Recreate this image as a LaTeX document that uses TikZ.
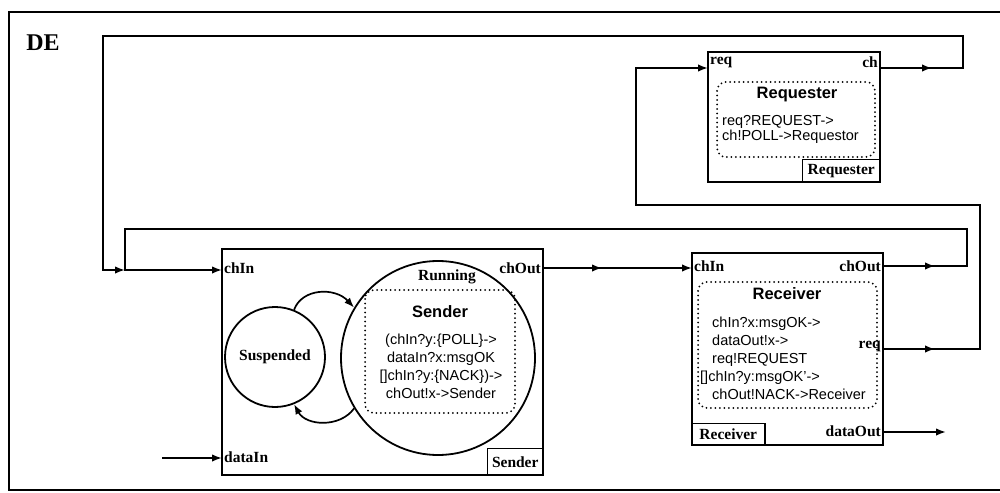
\documentclass[tikz,border=0pt]{standalone}
\usepackage{fontspec}
\setmainfont{Liberation Serif}
\setsansfont{Liberation Sans}
\usetikzlibrary{arrows.meta,decorations.markings}
\begin{document}
\begin{tikzpicture}[x=1pt,y=-1pt,
  >={Latex[length=10pt,width=7.5pt]},
  frame/.style={line width=1.8pt},
  box/.style={draw,line width=2pt,inner sep=0pt},
  lblbox/.style={draw,line width=1.5pt,inner xsep=3pt,inner ysep=0pt,font=\fontsize{15.5}{17}\selectfont\bfseries},
  port/.style={inner sep=2pt,font=\fontsize{15.5}{17}\selectfont\bfseries},
  state/.style={draw,circle,line width=1.8pt,inner sep=0pt},
  dotbox/.style={line width=2pt,dash pattern=on 0pt off 4.5pt,line cap=round,rounded corners=9pt},
  head/.style={font=\sffamily\bfseries\fontsize{16.5}{18}\selectfont,inner sep=0pt},
  code/.style={font=\sffamily\fontsize{14.5}{18}\selectfont,inner sep=0pt},
  conn/.style={line width=1.7pt},
  arrowat/.style={postaction={decorate,decoration={markings,mark=at position #1 with {\arrow{>}}}}},
]
\useasboundingbox (0,0) rectangle (1000,492);
% outer frame
\draw[frame] (1003,490) -- (9,490) -- (9,12) -- (1003,12);
\node[font=\fontsize{24}{26}\selectfont\bfseries] (title) at (43,43) {DE};

% ---------- Sender ----------
\node[box,minimum width=321pt,minimum height=226pt] (sender) at (382.5,362) {};
\node[lblbox,anchor=south east,minimum width=56pt,minimum height=27pt] (senderlbl) at (sender.south east) {Sender};
\node[state,minimum size=194pt] (run) at (438,358) {};
\node[port] (runlbl) at (447,277) {Running};
\node[state,minimum size=100pt,font=\fontsize{15.5}{17}\selectfont\bfseries] (susp) at (275,357) {Suspended};
\draw[dotbox] (365,290) rectangle (515,413);
\node[head] (shead) at (440,312) {Sender};
\node[code,align=center] (scode) at (441,366) {(chIn?y:\{POLL\}->\\dataIn?x:msgOK\\{}[]chIn?y:\{NACK\})->\\chOut!x->Sender};
\draw[conn,->] (susp.68) .. controls (302,288) and (335,287) .. (run.149);
\draw[conn,->] (run.211) .. controls (340,428) and (306,426) .. (susp.292);
\node[port,anchor=west] (schinlbl) at (222,268) {chIn};
\node[port,anchor=west] (sdatainlbl) at (222,457) {dataIn};
\node[port,anchor=east] (schoutlbl) at (543,268) {chOut};

% ---------- Receiver ----------
\node[box,minimum width=191pt,minimum height=192pt] (recv) at (787.5,349) {};
\node[lblbox,anchor=south west,minimum width=73pt,minimum height=22pt] (recvlbl) at (recv.south west) {Receiver};
\draw[dotbox] (698,282) rectangle (877,408);
\node[head] (rhead) at (787,294) {Receiver};
\node[code,align=left,anchor=west] (rcode) at (700,358) {\hspace*{12pt}chIn?x:msgOK->\\\hspace*{12pt}dataOut!x->\\\hspace*{12pt}req!REQUEST\\{}[]chIn?y:msgOK'->\\\hspace*{12pt}chOut!NACK->Receiver};
\node[port,anchor=west] (rchinlbl) at (692,266) {chIn};
\node[port,anchor=east] (rchoutlbl) at (883,266) {chOut};
\node[port,anchor=east] (rreqlbl) at (883,346) {req};
\node[port,anchor=east] (rdataoutlbl) at (883,431) {dataOut};

% ---------- Requester ----------
\node[box,minimum width=172pt,minimum height=130pt] (reqr) at (794,117) {};
\node[lblbox,anchor=south east,minimum width=78pt,minimum height=23pt] (reqrlbl) at (reqr.south east) {Requester};
\draw[dotbox] (717,82) rectangle (875,157);
\node[head] (qhead) at (797,95) {Requester};
\node[code,align=left,anchor=west,font=\sffamily\fontsize{14.5}{15.5}\selectfont] (qcode) at (722,129.5) {req?REQUEST->\\ch!POLL->Requestor};
\node[port,anchor=west] (qreqlbl) at (708,62) {req};
\node[port,anchor=east] (qchlbl) at (880,62) {ch};

% ---------- ports ----------
\coordinate (s-chin) at (222,270);
\coordinate (s-datain) at (222,458);
\coordinate (s-chout) at (543,268);
\coordinate (r-chin) at (692,268);
\coordinate (r-chout) at (883,266);
\coordinate (r-req) at (883,349);
\coordinate (r-dataout) at (883,432);
\coordinate (q-req) at (708,68);
\coordinate (q-ch) at (880,68);
\coordinate (j1) at (125,270);
\coordinate (din) at (162,458);
\coordinate (dout) at (946,432);

% ---------- connectors ----------
\draw[conn,->,arrowat=52pt] (q-ch) -- (963,68) -- (963,36) -- (103,36) -- (103,270) -- (j1);
\draw[conn,->,arrowat=52pt] (r-chout) -- (967,266) -- (967,229) -- (125,229) -- (j1) -- (s-chin);
\draw[conn,->,arrowat=52pt] (r-req) -- (980,349) -- (980,205) -- (636,205) -- (636,68) -- (q-req);
\draw[conn,->,arrowat=59pt] (s-chout) -- (r-chin);
\draw[conn,->] (din) -- (s-datain);
\draw[conn,->] (r-dataout) -- (dout);
\end{tikzpicture}
\end{document}
